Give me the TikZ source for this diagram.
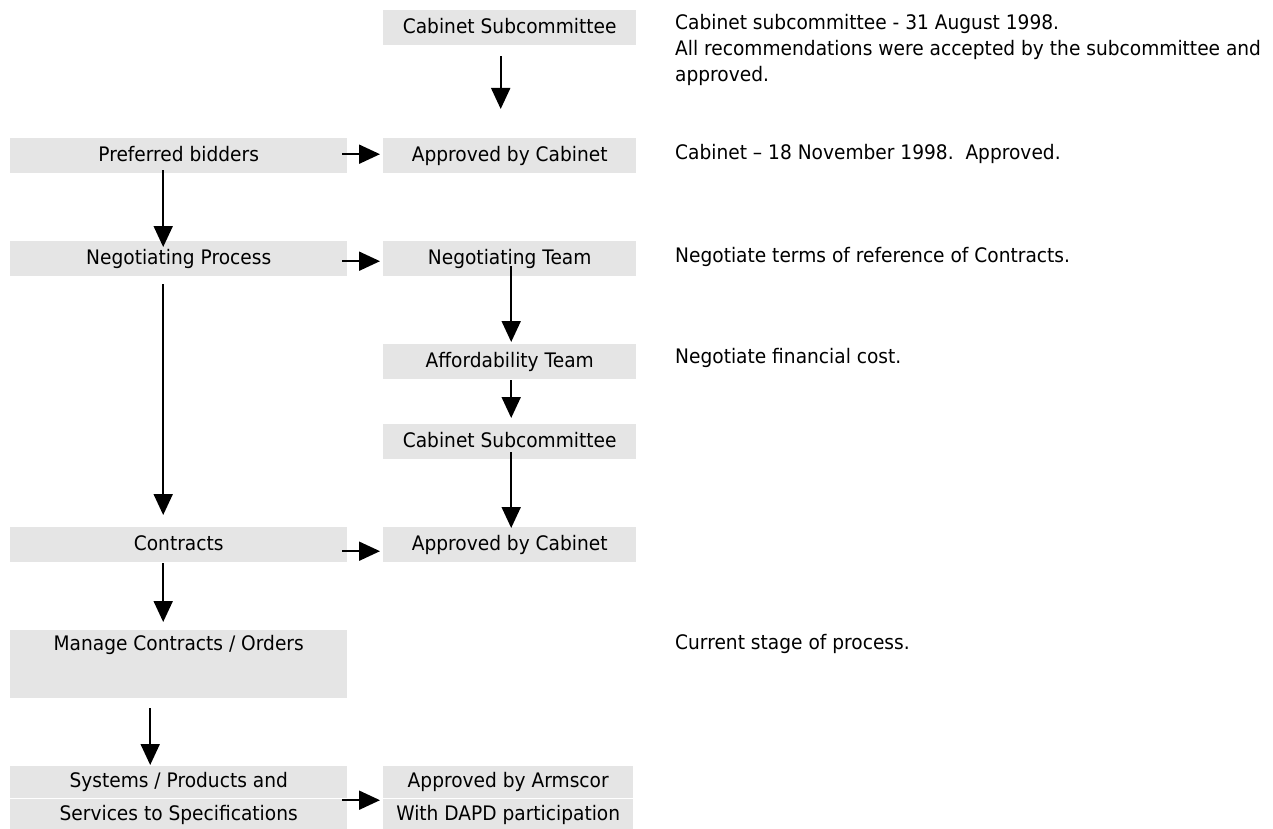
\documentclass[tikz,border=0pt]{standalone}
\usepackage{fontspec}
\setmainfont{DejaVu Sans}[FakeStretch=0.93]
\usetikzlibrary{arrows.meta,calc}
\definecolor{boxgray}{RGB}{229,229,229}
\begin{document}
\begin{tikzpicture}[x=1pt,y=-1pt,
  one/.style={font=\fontsize{20}{26}\selectfont, text height=15pt, text depth=4pt},
  two/.style={font=\fontsize{20}{33}\selectfont, align=center},
  lbox/.style={fill=boxgray, minimum width=337pt, minimum height=35pt, inner sep=0pt, anchor=north west},
  mbox/.style={fill=boxgray, minimum width=253pt, minimum height=35pt, inner sep=0pt, anchor=north west},
  note/.style={anchor=west, inner sep=0pt, align=left, font=\fontsize{20}{26}\selectfont},
  arr/.style={-{Triangle[length=21pt,width=19pt]}, line width=2pt},
  divider/.style={white, line width=0.8pt}
]
\useasboundingbox (0,0) rectangle (1273,829);

% boxes
\node[mbox, one] (cs1) at (383,10) {Cabinet Subcommittee};
\node[lbox, one] (pb) at (10,138) {Preferred bidders};
\node[mbox, one] (ac1) at (383,138) {Approved by Cabinet};
\node[lbox, one] (np) at (10,241) {Negotiating Process};
\node[mbox, one] (nt) at (383,241) {Negotiating Team};
\node[mbox, one] (at) at (383,344) {Affordability Team};
\node[mbox, one] (cs2) at (383,424) {Cabinet Subcommittee};
\node[lbox, one] (ct) at (10,527) {Contracts};
\node[mbox, one] (ac2) at (383,527) {Approved by Cabinet};
\node[lbox, two, minimum height=68pt] (mc) at (10,630) {Manage Contracts / Orders\\[10pt]\mbox{}};
\node[lbox, two, minimum height=64pt] (sp) at (10,766) {Systems / Products and\\Services to Specifications};
\node[mbox, two, minimum width=250pt, minimum height=64pt] (aa) at (383,766) {Approved by Armscor\\With DAPD participation};

\draw[divider] ($(sp.north west)+(0,32)$) -- ($(sp.north east)+(0,32)$);
\draw[divider] ($(aa.north west)+(0,32)$) -- ($(aa.north east)+(0,32)$);

% notes
\node[note] (n1) at (675,50) {Cabinet subcommittee - 31 August 1998.\\All recommendations were accepted by the subcommittee and\\approved.};
\node[note, one] (n2) at (675,154) {Cabinet – 18 November 1998.\ \ Approved.};
\node[note, one] (n3) at (675,257) {Negotiate terms of reference of Contracts.};
\node[note, one] (n4) at (675,358) {Negotiate financial cost.};
\node[note, one] (n5) at (675,644) {Current stage of process.};

% connectors
\draw[arr] ($(cs1.south)+(-9,11)$) -- ($(ac1.north)+(-9,-29)$);
\draw[arr] ($(pb.east)+(-5,-1.5)$) -- ($(ac1.west)+(-3,-1.5)$);
\draw[arr] ($(pb.south)+(-15.5,-3)$) -- ($(np.north)+(-15.5,6)$);
\draw[arr] ($(np.east)+(-5,2.5)$) -- ($(nt.west)+(-3,2.5)$);
\draw[arr] ($(nt.south)+(1.5,-10)$) -- ($(at.north)+(1.5,-2)$);
\draw[arr] ($(at.south)+(1.5,1)$) -- ($(cs2.north)+(1.5,-6)$);
\draw[arr] ($(cs2.south)+(1.5,-7)$) -- ($(ac2.north)+(1.5,1)$);
\draw[arr] ($(np.south)+(-15.5,8)$) -- ($(ct.north)+(-15.5,-12)$);
\draw[arr] ($(ct.east)+(-5,6.5)$) -- ($(ac2.west)+(-3,6.5)$);
\draw[arr] ($(ct.south)+(-15.5,1)$) -- ($(mc.north)+(-15.5,-8)$);
\draw[arr] ($(mc.south)+(-28.5,10)$) -- ($(sp.north)+(-28.5,-1)$);
\draw[arr] ($(sp.east)+(-5,2)$) -- ($(aa.west)+(-3,2)$);
\end{tikzpicture}
\end{document}
